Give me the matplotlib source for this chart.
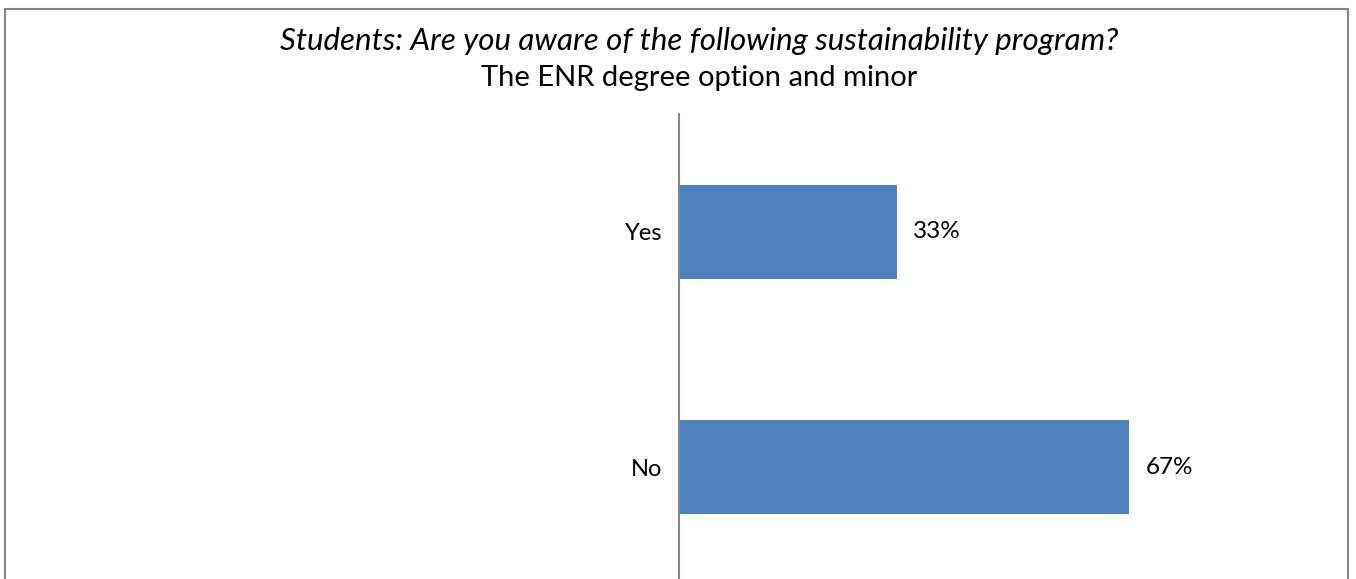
import matplotlib
matplotlib.use("Agg")
import matplotlib.pyplot as plt
from matplotlib.patches import Rectangle

# data
categories = ["No", "Yes"]
shares = [0.674, 0.326]
title_line1 = "Students: Are you aware of the following sustainability program?"
title_line2 = "The ENR degree option and minor"

plt.rcParams["font.family"] = ["Lato", "DejaVu Sans"]

fig = plt.figure(figsize=(13.56, 5.79), dpi=100)

# outer chart border (bottom edge is cut off in the original)
fig.add_artist(Rectangle((5 / 1356, -0.05), 1343 / 1356, 1.05 - 9 / 579,
                         transform=fig.transFigure, fill=False,
                         edgecolor="#868686", linewidth=1.5))

ax = fig.add_axes([679 / 1356, -6 / 579, 668 / 1356, 471 / 579])
ax.barh(categories, shares, height=0.4, color="#4F81BD")
ax.set_xlim(0, 1)
ax.set_ylim(-0.5, 1.5)

for y, v in enumerate(shares):
    ax.text(v + 0.024, y, f"{v:.0%}", va="center", ha="left", fontsize=17.5)

for s in ["top", "right", "bottom"]:
    ax.spines[s].set_visible(False)
ax.spines["left"].set_color("#868686")
ax.spines["left"].set_linewidth(1.5)
ax.set_xticks([])
ax.tick_params(axis="y", length=0, pad=12, labelsize=17)

fig.text(699 / 1356, 1 - 41 / 579, title_line1, ha="center", va="center",
         fontsize=22.5, style="italic")
fig.text(699 / 1356, 1 - 78 / 579, title_line2, ha="center", va="center",
         fontsize=21)

fig.savefig("out.png", dpi=100)
